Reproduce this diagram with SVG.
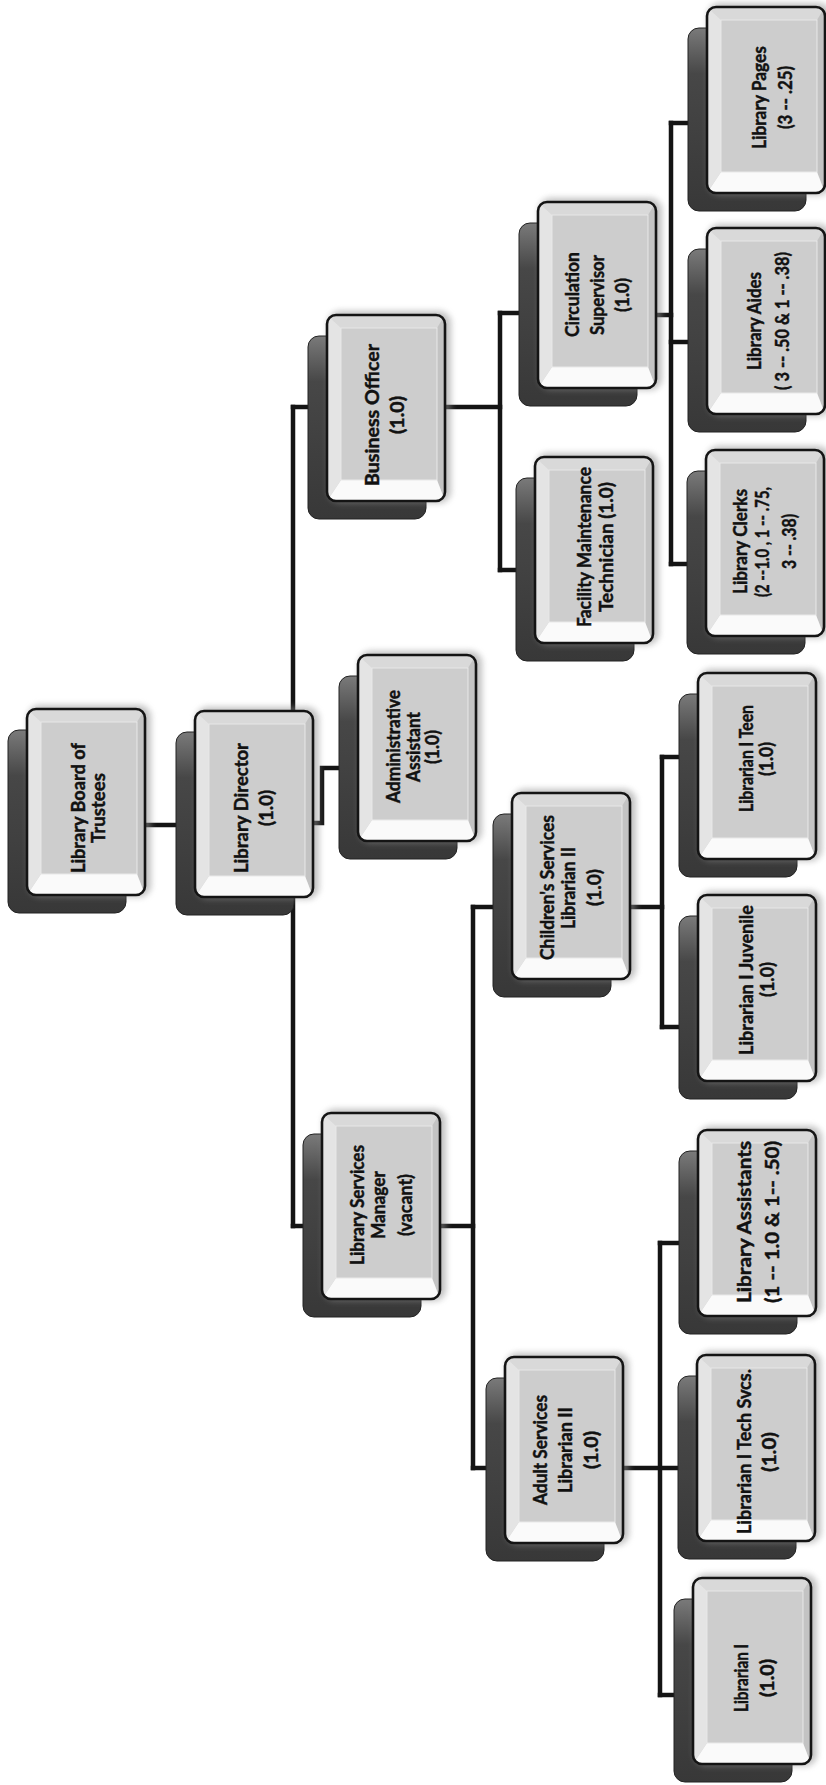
<svg xmlns="http://www.w3.org/2000/svg" xmlns:xlink="http://www.w3.org/1999/xlink" width="826" height="1785" viewBox="0 0 826 1785">
  <style>
    .wire { fill: none; stroke: #141414; stroke-width: 4.5; stroke-linejoin: miter; stroke-linecap: square; }
    .lbl { font-family: Lato, "Open Sans", "Liberation Sans", sans-serif; font-weight: 700; font-size: 18.5px; fill: #111111; stroke: #111111; stroke-width: 0.45; dominant-baseline: central; }
  </style>
  <defs>
    <linearGradient id="shadeFill" x1="0" y1="0" x2="0" y2="1">
      <stop offset="0" stop-color="#7a7a7a"/>
      <stop offset="0.25" stop-color="#474747"/>
      <stop offset="1" stop-color="#383838"/>
    </linearGradient>
    <filter id="soft" x="-20%" y="-20%" width="140%" height="140%">
      <feGaussianBlur stdDeviation="3"/>
    </filter>
    <clipPath id="faceClip">
      <rect x="0" y="0" width="118" height="186" rx="9"/>
    </clipPath>
    <!-- one position card: dark back plate, soft halo, bevelled face -->
    <g id="card">
      <rect x="-19" y="21" width="118" height="183" rx="11" fill="url(#shadeFill)" stroke="#222" stroke-width="1"/>
      <rect x="1" y="-4" width="123" height="192" rx="12" fill="#8e8e8e" opacity="0.55" filter="url(#soft)"/>
      <g clip-path="url(#faceClip)">
        <rect x="0" y="0" width="118" height="186" fill="#d6d6d6"/>
        <polygon points="0,0 118,0 110,13 14,13" fill="#d9d9d9"/>
        <polygon points="118,0 118,186 110,165 110,13" fill="#c3c3c3"/>
        <polygon points="0,186 118,186 110,165 14,165" fill="#fafafa"/>
        <polygon points="0,0 14,13 14,165 0,186" fill="#e4e4e4"/>
        <rect x="14" y="13" width="96" height="152" fill="#cdcdcd" stroke="#e8e8e8" stroke-width="1"/>
      </g>
      <rect x="0" y="0" width="118" height="186" rx="9" fill="none" stroke="#141414" stroke-width="2.6"/>
    </g>
  </defs>

  <rect x="0" y="0" width="826" height="1785" fill="#ffffff"/>

  <!-- reporting lines -->
  <g id="connectors">
    <path class="wire" d="M145,825 H182"/>
    <path class="wire" d="M293,407 V1226"/>
    <path class="wire" d="M293,407 H318"/>
    <path class="wire" d="M293,1226 H312"/>
    <path class="wire" d="M315,823 H322 V768 H346"/>
    <path class="wire" d="M445,407 H500"/>
    <path class="wire" d="M500,313 V570"/>
    <path class="wire" d="M500,313 H526"/>
    <path class="wire" d="M500,570 H522"/>
    <path class="wire" d="M653,315 H671"/>
    <path class="wire" d="M671,123 V564"/>
    <path class="wire" d="M671,123 H695"/>
    <path class="wire" d="M671,342 H694"/>
    <path class="wire" d="M671,564 H693"/>
    <path class="wire" d="M438,1226 H473"/>
    <path class="wire" d="M473,907 V1468"/>
    <path class="wire" d="M473,907 H500"/>
    <path class="wire" d="M473,1468 H492"/>
    <path class="wire" d="M628,907 H662"/>
    <path class="wire" d="M662,757 V1027"/>
    <path class="wire" d="M662,757 H685"/>
    <path class="wire" d="M662,1027 H685"/>
    <path class="wire" d="M621,1468 H684"/>
    <path class="wire" d="M660,1243 V1695"/>
    <path class="wire" d="M660,1243 H685"/>
    <path class="wire" d="M660,1695 H680"/>
  </g>

  <!-- labels read bottom-to-top; each line is fitted to its set length -->
  <g id="node-board">
    <use xlink:href="#card" x="27" y="709"/>
    <g transform="translate(86,808) rotate(-90)">
      <text class="lbl" x="-65" y="-8" textLength="130" lengthAdjust="spacingAndGlyphs">Library Board of</text>
      <text class="lbl" x="-35" y="12" textLength="70" lengthAdjust="spacingAndGlyphs">Trustees</text>
    </g>
  </g>
  <g id="node-director">
    <use xlink:href="#card" x="195" y="711"/>
    <g transform="translate(254,808) rotate(-90)">
      <text class="lbl" x="-65" y="-13" textLength="130" lengthAdjust="spacingAndGlyphs">Library Director</text>
      <text class="lbl" x="-18" y="12" textLength="36" lengthAdjust="spacingAndGlyphs">(1.0)</text>
    </g>
  </g>
  <g id="node-admin">
    <use xlink:href="#card" x="358" y="655"/>
    <g transform="translate(417,747) rotate(-90)">
      <text class="lbl" x="-56" y="-24" textLength="113" lengthAdjust="spacingAndGlyphs">Administrative</text>
      <text class="lbl" x="-35" y="-4" textLength="70" lengthAdjust="spacingAndGlyphs">Assistant</text>
      <text class="lbl" x="-17" y="15" textLength="34" lengthAdjust="spacingAndGlyphs">(1.0)</text>
    </g>
  </g>
  <g id="node-business">
    <use xlink:href="#card" x="327" y="315"/>
    <g transform="translate(386,415) rotate(-90)">
      <text class="lbl" x="-71" y="-14" textLength="142" lengthAdjust="spacingAndGlyphs">Business Officer</text>
      <text class="lbl" x="-19" y="11" textLength="38" lengthAdjust="spacingAndGlyphs">(1.0)</text>
    </g>
  </g>
  <g id="node-services-manager">
    <use xlink:href="#card" x="322" y="1113"/>
    <g transform="translate(381,1205) rotate(-90)">
      <text class="lbl" x="-60" y="-24" textLength="120" lengthAdjust="spacingAndGlyphs">Library Services</text>
      <text class="lbl" x="-34" y="-3" textLength="68" lengthAdjust="spacingAndGlyphs">Manager</text>
      <text class="lbl" x="-31" y="24" textLength="62" lengthAdjust="spacingAndGlyphs">(vacant)</text>
    </g>
  </g>
  <g id="node-facility">
    <use xlink:href="#card" x="535" y="457"/>
    <g transform="translate(594,547) rotate(-90)">
      <text class="lbl" x="-80" y="-10" textLength="160" lengthAdjust="spacingAndGlyphs">Facility Maintenance</text>
      <text class="lbl" x="-65" y="12" textLength="130" lengthAdjust="spacingAndGlyphs">Technician (1.0)</text>
    </g>
  </g>
  <g id="node-circulation">
    <use xlink:href="#card" x="538" y="202"/>
    <g transform="translate(597,295) rotate(-90)">
      <text class="lbl" x="-42" y="-25" textLength="85" lengthAdjust="spacingAndGlyphs">Circulation</text>
      <text class="lbl" x="-40" y="0" textLength="80" lengthAdjust="spacingAndGlyphs">Supervisor</text>
      <text class="lbl" x="-17" y="25" textLength="34" lengthAdjust="spacingAndGlyphs">(1.0)</text>
    </g>
  </g>
  <g id="node-clerks">
    <use xlink:href="#card" x="706" y="450"/>
    <g transform="translate(765,542) rotate(-90)">
      <text class="lbl" x="-52" y="-25" textLength="105" lengthAdjust="spacingAndGlyphs">Library Clerks</text>
      <text class="lbl" x="-55" y="-3" textLength="110" lengthAdjust="spacingAndGlyphs">(2 --1.0 , 1 -- .75,</text>
      <text class="lbl" x="-27" y="24" textLength="55" lengthAdjust="spacingAndGlyphs">3 -- .38)</text>
    </g>
  </g>
  <g id="node-aides">
    <use xlink:href="#card" x="707" y="228"/>
    <g transform="translate(766,321) rotate(-90)">
      <text class="lbl" x="-49" y="-12" textLength="98" lengthAdjust="spacingAndGlyphs">Library Aides</text>
      <text class="lbl" x="-69" y="16" textLength="138" lengthAdjust="spacingAndGlyphs">( 3 -- .50 &amp; 1 -- .38)</text>
    </g>
  </g>
  <g id="node-pages">
    <use xlink:href="#card" x="707" y="7"/>
    <g transform="translate(766,98) rotate(-90)">
      <text class="lbl" x="-51" y="-7" textLength="103" lengthAdjust="spacingAndGlyphs">Library Pages</text>
      <text class="lbl" x="-31" y="19" textLength="63" lengthAdjust="spacingAndGlyphs">(3 -- .25)</text>
    </g>
  </g>
  <g id="node-childrens">
    <use xlink:href="#card" x="512" y="793"/>
    <g transform="translate(571,888) rotate(-90)">
      <text class="lbl" x="-72" y="-24" textLength="145" lengthAdjust="spacingAndGlyphs">Children's Services</text>
      <text class="lbl" x="-41" y="-3" textLength="82" lengthAdjust="spacingAndGlyphs">Librarian II</text>
      <text class="lbl" x="-18" y="23" textLength="37" lengthAdjust="spacingAndGlyphs">(1.0)</text>
    </g>
  </g>
  <g id="node-teen">
    <use xlink:href="#card" x="698" y="673"/>
    <g transform="translate(757,759) rotate(-90)">
      <text class="lbl" x="-53" y="-11" textLength="107" lengthAdjust="spacingAndGlyphs">Librarian I Teen</text>
      <text class="lbl" x="-17" y="9" textLength="34" lengthAdjust="spacingAndGlyphs">(1.0)</text>
    </g>
  </g>
  <g id="node-juvenile">
    <use xlink:href="#card" x="698" y="895"/>
    <g transform="translate(757,980) rotate(-90)">
      <text class="lbl" x="-75" y="-11" textLength="150" lengthAdjust="spacingAndGlyphs">Librarian I Juvenile</text>
      <text class="lbl" x="-17" y="10" textLength="35" lengthAdjust="spacingAndGlyphs">(1.0)</text>
    </g>
  </g>
  <g id="node-adult">
    <use xlink:href="#card" x="505" y="1357"/>
    <g transform="translate(564,1450) rotate(-90)">
      <text class="lbl" x="-55" y="-24" textLength="110" lengthAdjust="spacingAndGlyphs">Adult Services</text>
      <text class="lbl" x="-43" y="1" textLength="86" lengthAdjust="spacingAndGlyphs">Librarian II</text>
      <text class="lbl" x="-19" y="27" textLength="38" lengthAdjust="spacingAndGlyphs">(1.0)</text>
    </g>
  </g>
  <g id="node-assistants">
    <use xlink:href="#card" x="698" y="1130"/>
    <g transform="translate(757,1222) rotate(-90)">
      <text class="lbl" x="-81" y="-13" textLength="162" lengthAdjust="spacingAndGlyphs">Library Assistants</text>
      <text class="lbl" x="-81" y="15" textLength="162" lengthAdjust="spacingAndGlyphs">(1 -- 1.0 &amp; 1-- .50)</text>
    </g>
  </g>
  <g id="node-tech">
    <use xlink:href="#card" x="697" y="1355"/>
    <g transform="translate(756,1452) rotate(-90)">
      <text class="lbl" x="-82" y="-12" textLength="165" lengthAdjust="spacingAndGlyphs">Librarian I Tech Svcs.</text>
      <text class="lbl" x="-20" y="13" textLength="40" lengthAdjust="spacingAndGlyphs">(1.0)</text>
    </g>
  </g>
  <g id="node-librarian">
    <use xlink:href="#card" x="693" y="1578"/>
    <g transform="translate(752,1678) rotate(-90)">
      <text class="lbl" x="-34" y="-11" textLength="68" lengthAdjust="spacingAndGlyphs">Librarian I</text>
      <text class="lbl" x="-19" y="15" textLength="38" lengthAdjust="spacingAndGlyphs">(1.0)</text>
    </g>
  </g>
</svg>
